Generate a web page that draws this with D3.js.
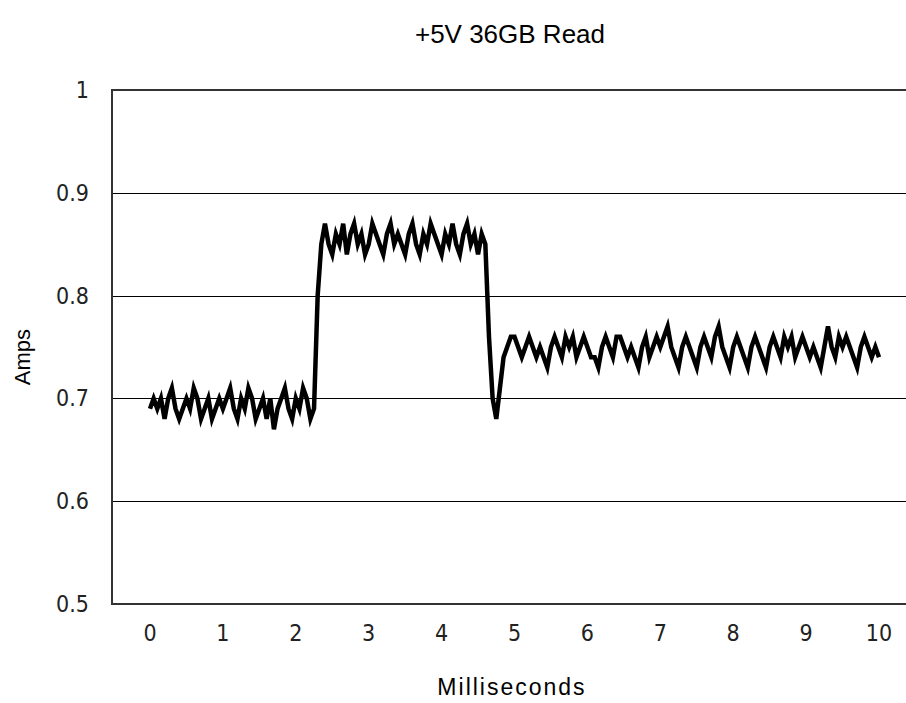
<!DOCTYPE html>
<html>
<head>
<meta charset="utf-8">
<script src="https://cdn.jsdelivr.net/npm/d3@7"></script>
<style>
  body { margin: 0; background: #fff; }
  text { font-family: 'Liberation Sans', Arial, sans-serif; fill: #000; }
  .tick-label { font-family: 'DejaVu Sans Condensed', 'DejaVu Sans', sans-serif; font-stretch: condensed; fill: #222; }
</style>
</head>
<body>
<div id="chart"></div>
<script>
'use strict'

// readings every 0.05 ms
const sampleMs = 0.05;
const amps = [
  0.69, 0.70, 0.69, 0.70, 0.68, 0.70, 0.71, 0.69, 0.68, 0.69,
  0.70, 0.69, 0.71, 0.70, 0.68, 0.69, 0.70, 0.68, 0.69, 0.70,
  0.69, 0.70, 0.71, 0.69, 0.68, 0.70, 0.69, 0.71, 0.70, 0.68,
  0.69, 0.70, 0.68, 0.70, 0.67, 0.69, 0.70, 0.71, 0.69, 0.68,
  0.70, 0.69, 0.71, 0.70, 0.68, 0.69, 0.80, 0.85, 0.87, 0.85,
  0.84, 0.86, 0.85, 0.87, 0.84, 0.86, 0.87, 0.85, 0.86, 0.84,
  0.85, 0.87, 0.86, 0.85, 0.84, 0.86, 0.87, 0.85, 0.86, 0.85,
  0.84, 0.86, 0.87, 0.85, 0.84, 0.86, 0.85, 0.87, 0.86, 0.85,
  0.84, 0.86, 0.85, 0.87, 0.85, 0.84, 0.86, 0.87, 0.85, 0.86,
  0.84, 0.86, 0.85, 0.76, 0.70, 0.68, 0.71, 0.74, 0.75, 0.76,
  0.76, 0.75, 0.74, 0.75, 0.76, 0.75, 0.74, 0.75, 0.74, 0.73,
  0.75, 0.76, 0.75, 0.74, 0.76, 0.75, 0.76, 0.74, 0.75, 0.76,
  0.75, 0.74, 0.74, 0.73, 0.75, 0.76, 0.75, 0.74, 0.76, 0.76,
  0.75, 0.74, 0.75, 0.74, 0.73, 0.75, 0.76, 0.74, 0.75, 0.76,
  0.75, 0.76, 0.77, 0.75, 0.74, 0.73, 0.75, 0.76, 0.75, 0.74,
  0.73, 0.75, 0.76, 0.75, 0.74, 0.76, 0.77, 0.75, 0.74, 0.73,
  0.75, 0.76, 0.75, 0.74, 0.73, 0.75, 0.76, 0.75, 0.74, 0.73,
  0.75, 0.76, 0.75, 0.74, 0.76, 0.75, 0.76, 0.74, 0.75, 0.76,
  0.75, 0.74, 0.75, 0.74, 0.73, 0.75, 0.77, 0.75, 0.74, 0.76,
  0.75, 0.76, 0.75, 0.74, 0.73, 0.75, 0.76, 0.75, 0.74, 0.75,
  0.74
];
const xTicks = [0, 1, 2, 3, 4, 5, 6, 7, 8, 9, 10];
const yTicks = [0.5, 0.6, 0.7, 0.8, 0.9, 1];

const width = 906;
const height = 703;
const plot = { left: 112, right: 910, top: 90, bottom: 604 };

const svg = d3.select('#chart')
  .append('svg')
    .attr('width', width)
    .attr('height', height);

const x = d3.scaleLinear().domain([0, 10]).range([150, 879]);
const y = d3.scaleLinear().domain([0.5, 1]).range([plot.bottom, plot.top]);

// horizontal gridlines
svg.append('g')
  .selectAll('line')
  .data(yTicks.filter(d => d > 0.5 && d < 1))
  .enter()
  .append('line')
    .attr('x1', plot.left)
    .attr('x2', plot.right)
    .attr('y1', d => Math.round(y(d)) + 0.5)
    .attr('y2', d => Math.round(y(d)) + 0.5)
    .attr('stroke', '#000')
    .attr('stroke-width', 1);

// frame: left, top, bottom (right edge runs off the picture)
svg.append('path')
  .attr('d', `M${plot.right},${plot.top}H${plot.left}V${plot.bottom}H${plot.right}`)
  .attr('fill', 'none')
  .attr('stroke', '#333')
  .attr('stroke-width', 2);

// y labels
svg.append('g')
  .selectAll('text')
  .data(yTicks)
  .enter()
  .append('text')
    .attr('class', 'tick-label')
    .attr('x', 89)
    .attr('y', d => y(d) + 8)
    .attr('text-anchor', 'end')
    .attr('font-size', 23)
    .text(d => d3.format('')(d));

// x labels
svg.append('g')
  .selectAll('text')
  .data(xTicks)
  .enter()
  .append('text')
    .attr('class', 'tick-label')
    .attr('x', d => x(d))
    .attr('y', 641)
    .attr('text-anchor', 'middle')
    .attr('font-size', 23)
    .text(d => d);

const line = d3.line()
  .x((d, i) => x(i * sampleMs))
  .y(d => y(d));

svg.append('path')
  .datum(amps)
  .attr('d', line)
  .attr('fill', 'none')
  .attr('stroke', '#000')
  .attr('stroke-width', 4.5)
  .attr('stroke-linejoin', 'miter');

svg.append('text')
  .attr('x', 510)
  .attr('y', 43)
  .attr('text-anchor', 'middle')
  .attr('font-size', 26)
  .text('+5V 36GB Read');

svg.append('text')
  .attr('x', 512)
  .attr('y', 695)
  .attr('text-anchor', 'middle')
  .attr('font-size', 23)
  .attr('letter-spacing', 2)
  .text('Milliseconds');

svg.append('text')
  .attr('transform', 'translate(30,357) rotate(-90)')
  .attr('text-anchor', 'middle')
  .attr('font-size', 22)
  .text('Amps');
</script>
</body>
</html>
